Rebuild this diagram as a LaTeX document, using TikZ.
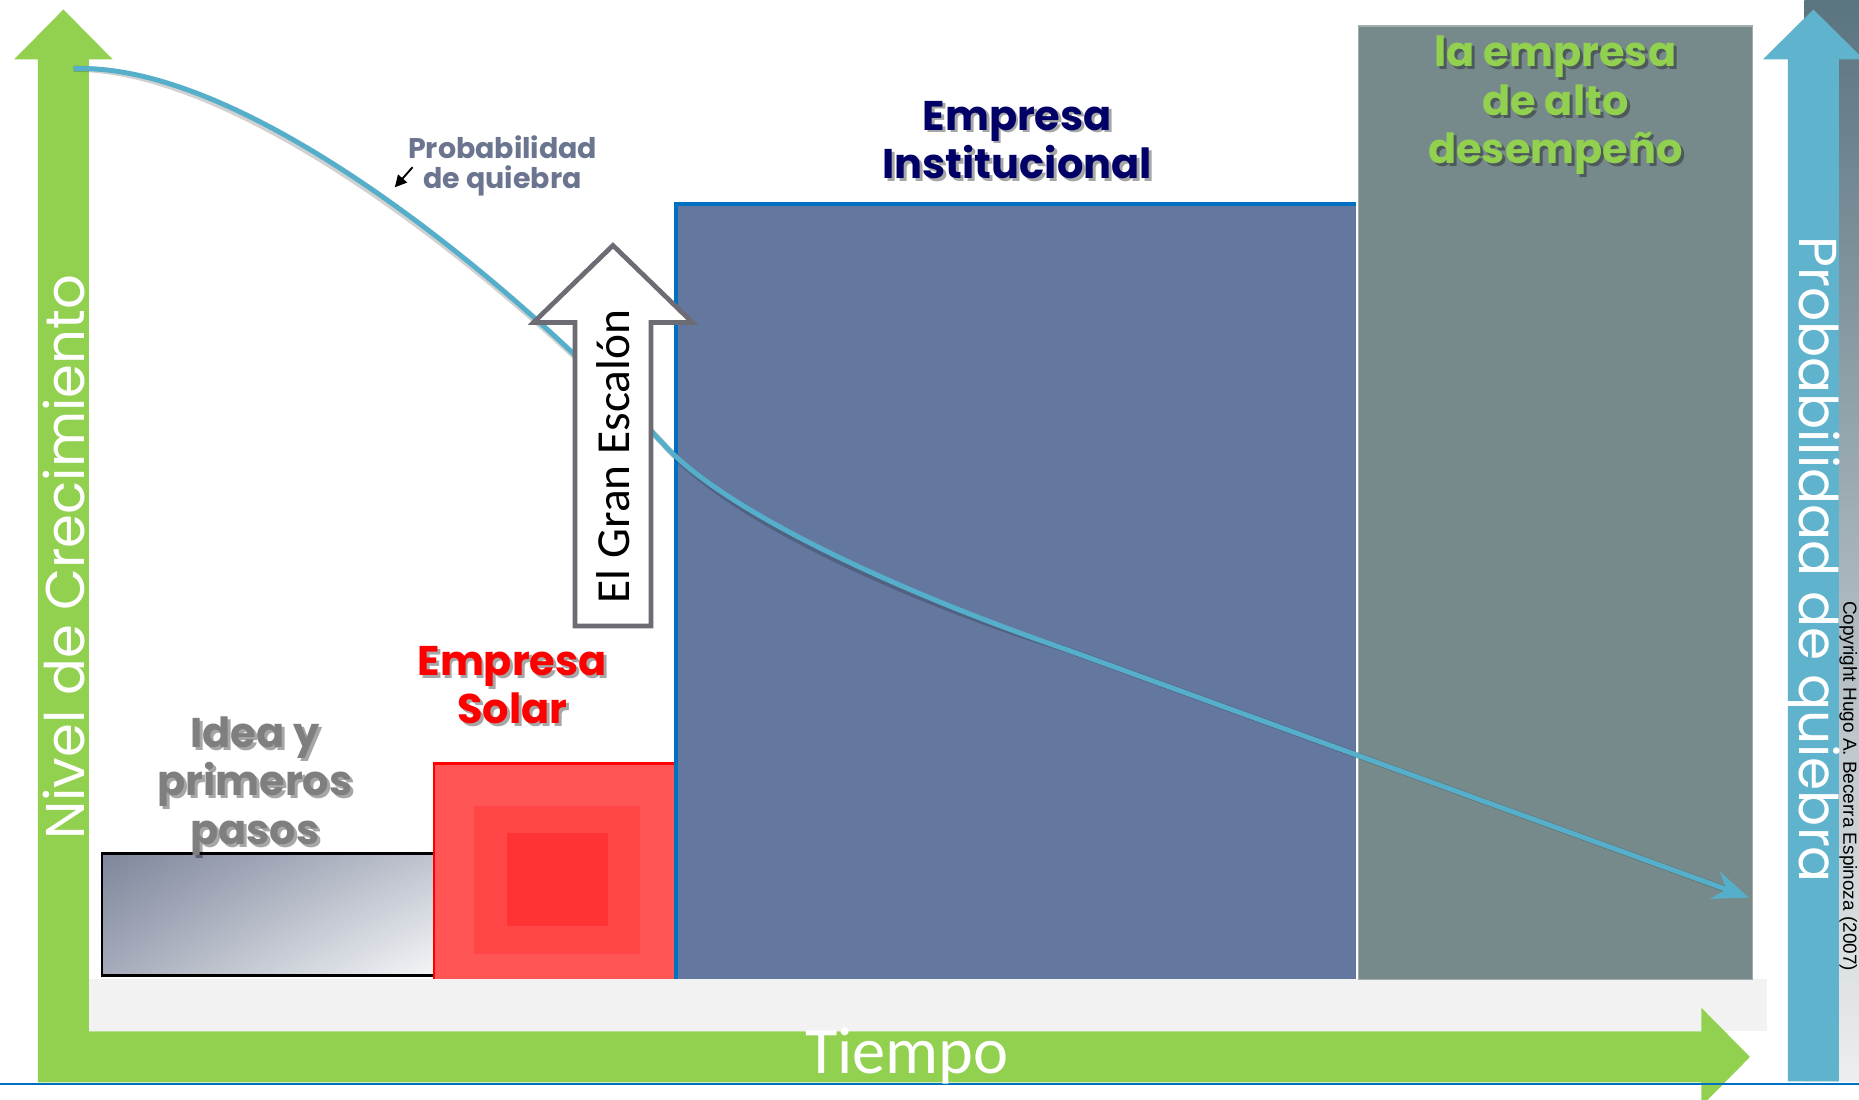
\documentclass[tikz,border=0pt]{standalone}
\usepackage{fontspec}
\setmainfont{Carlito}
\newfontfamily\bauh{Poppins}
\newfontfamily\geo{Poppins}
\newfontfamily\arialf{Liberation Sans}
\usetikzlibrary{arrows.meta,calc,shadings}
\definecolor{grn}{HTML}{92D050}
\definecolor{rblue}{HTML}{60B3CC}
\definecolor{curvec}{HTML}{56AFCA}
\definecolor{instbox}{HTML}{63779F}
\definecolor{edgeblue}{HTML}{0070C0}
\definecolor{altobox}{HTML}{778A8B}
\definecolor{redout}{HTML}{FF5555}
\definecolor{redmid}{HTML}{FF4747}
\definecolor{redin}{HTML}{FF3333}
\definecolor{navy}{HTML}{000066}
\definecolor{slate}{HTML}{6B7590}
\definecolor{ideagray}{HTML}{7F7F7F}
\definecolor{band}{HTML}{F2F2F2}
\definecolor{escgray}{HTML}{6D6C74}
\definecolor{ideaUL}{RGB}{126,134,155}
\definecolor{ideaUR}{RGB}{190,195,206}
\definecolor{ideaLL}{RGB}{165,171,186}
\definecolor{ideaLR}{RGB}{244,247,248}
\definecolor{stripTop}{HTML}{5A7480}
\definecolor{stripBot}{HTML}{ECEEEF}
\tikzset{
  blabel/.style={font=\bauh\bfseries\fontsize{17.5}{20.5}\selectfont, align=center, inner sep=0pt},
  smalllabel/.style={font=\bauh\bfseries\fontsize{12}{12.5}\selectfont, align=center, inner sep=0pt, text=slate},
  axislabel/.style={font=\geo\fontsize{23}{26}\selectfont, text=white, inner sep=0pt},
}
\newcommand\shlabel[4]{%
  \node[blabel,text=black,opacity=0.35] at ([shift={(2.5,2.5)}]#2) {#4};
  \node[blabel,text=#3] (#1) at (#2) {#4};}
\begin{document}
\begin{tikzpicture}[x=0.5pt,y=-0.5pt]
\useasboundingbox (0,0) rectangle (1568,927);
\clip (0,0) rectangle (1568,927);
\fill[white] (0,0) rectangle (1568,927);
% right dark gradient strip
\shade[top color=stripTop, bottom color=stripBot] (1522,0) rectangle (1568,912);
% gray band
\fill[band] (75,826) rectangle (1490,870);
% idea box
\shade[upper left=ideaUL, upper right=ideaUR, lower left=ideaLL, lower right=ideaLR]
  (86,720) rectangle (366,823);
\draw[black, line width=1.2pt] (86,720) rectangle (366,823);
% red box
\fill[redout] (366,644) rectangle (570,826);
\fill[redmid] (400,680) rectangle (540,805);
\fill[redin] (428,703) rectangle (513,781);
\draw[red, line width=1.2pt] (366,826) -- (366,644) -- (570,644);
% institutional box
\fill[instbox] (570,172) rectangle (1144,826);
\draw[edgeblue, line width=1.5pt] (570,826) -- (570,172) -- (1144,172);
% alto box
\fill[altobox] (1146,22) rectangle (1478,826);
\draw[altobox!70!white, line width=0.5pt] (1146,22) rectangle (1478,826);
% green axes arrow
\fill[grn] (32,913) -- (32,50) -- (12,50) -- (53.5,8) -- (95,50) -- (75,50) -- (75,870)
  -- (1435,870) -- (1435,850) -- (1476,891.5) -- (1435,933) -- (1435,913) -- cycle;
% bottom blue rule
\draw[edgeblue, line width=0.8pt] (0,914.5) -- (1568,914.5);
% right blue arrow
\fill[rblue] (1508,912) -- (1508,50) -- (1487,50) -- (1529.5,8) -- (1572,50) -- (1551,50) -- (1551,912) -- cycle;
% failure probability curve
\coordinate (c0) at (62,58);
\coordinate (c1) at (560,375);
\coordinate (c2) at (900,548);
\coordinate (c3) at (1475,757);
\draw[black, opacity=0.18, line width=2.6pt, shift={(2,5)}]
  (c0) .. controls (200,52) and (418,222) .. (c1) .. controls (612,432) and (760,500) .. (c2) -- ($(c3)+(-14,-5)$);
\draw[curvec, line width=2.1pt, -{Stealth[length=15pt,width=12pt,inset=5pt]}]
  (c0) .. controls (200,52) and (418,222) .. (c1) .. controls (612,432) and (760,500) .. (c2) -- (c3);
% El Gran Escalon arrow
\draw[escgray, fill=white, line width=2pt, line join=miter]
  (485,528) -- (485,272) -- (450,272) -- (517,207) -- (584,272) -- (549,272) -- (549,528) -- cycle;
\node[font=\fontsize{20}{22}\selectfont, rotate=90, inner sep=0pt] (escalon) at (517,385) {El Gran Escalón};
% labels
\shlabel{idea}{215,663}{ideagray}{Idea y\\primeros\\pasos}
\shlabel{solar}{432,578}{red}{Empresa\\Solar}
\shlabel{inst}{858,118}{navy}{Empresa\\Institucional}
\shlabel{alto}{1312,89}{grn}{la empresa\\de alto\\desempeño}
\node[smalllabel] (plabel) at (424,140) {Probabilidad\\de quiebra};
\coordinate (pa0) at (348,141);
\coordinate (pa1) at (333,158);
\draw[black, line width=0.8pt, -{Triangle[length=5pt,width=5pt]}] (pa0) -- (pa1);
% axis labels
\node[axislabel, rotate=90] (nivel) at (54,470) {Nivel de Crecimiento};
\node[axislabel, rotate=-90, font=\geo\fontsize{22.5}{25}\selectfont] (probq) at (1529,472) {Probabilidad de quiebra};
\node[font=\fontsize{28}{30}\selectfont, text=white, inner sep=0pt] (tiempo) at (765,891) {Tiempo};
\node[font=\arialf\fontsize{8}{9}\selectfont, rotate=-90, inner sep=0pt] (copy) at (1559,663) {Copyright Hugo A. Becerra Espinoza (2007)};
\end{tikzpicture}
\end{document}
